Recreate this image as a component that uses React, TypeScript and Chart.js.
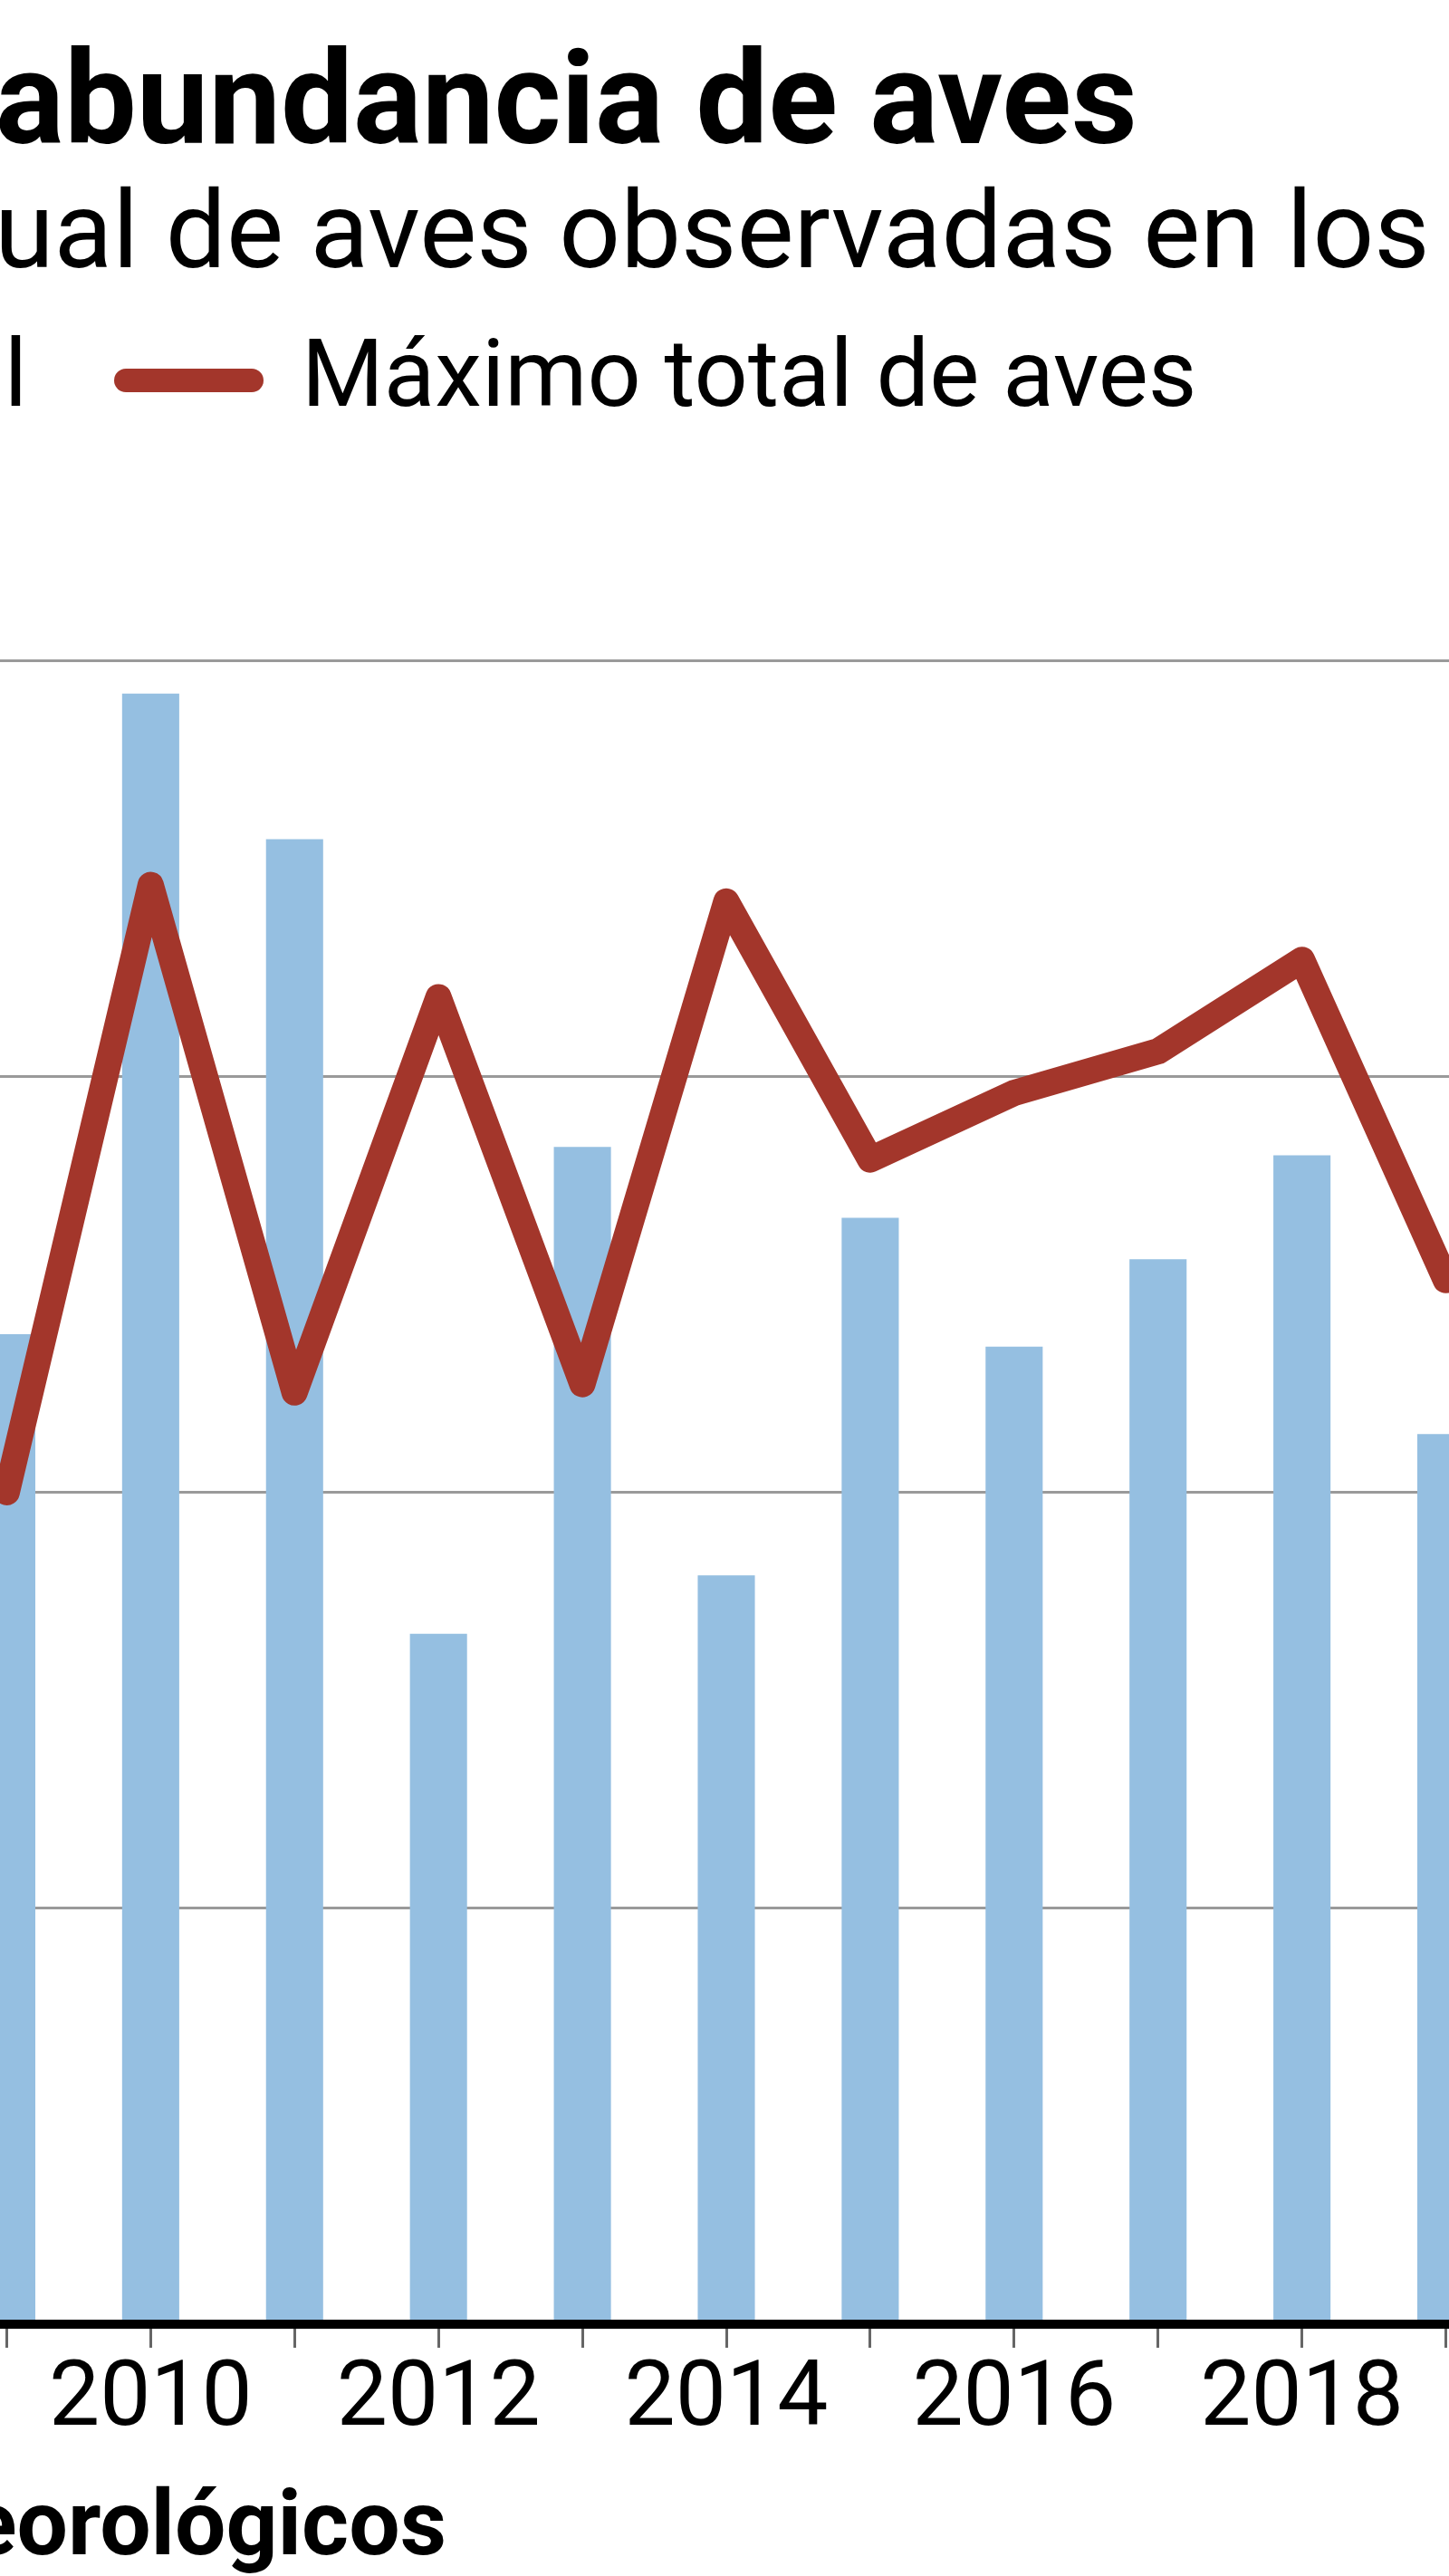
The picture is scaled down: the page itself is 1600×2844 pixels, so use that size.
import React, { useEffect, useRef } from 'react';
import { Chart, registerables } from 'chart.js';

Chart.register(...registerables);

// ---- Data ----
const years = ['2009', '2010', '2011', '2012', '2013', '2014', '2015', '2016', '2017', '2018', '2019'];
const promedioAnual = [238, 392, 357, 166, 283, 180, 266, 235, 256, 281, 214];
const maximoTotal = [200, 346, 224, 319, 226, 342, 280, 296, 306, 328, 251];
const yMin = 0;
const yMax = 400;
const yStep = 100;

// ---- Texts ----
const titleHidden = 'Evolución de la ';
const titleVisible = 'abundancia de aves';
const subtitleHidden = 'Promedio an';
const subtitleVisible = 'ual de aves observadas en los humedales';
const legendBars = 'Promedio anual';
const legendLine = 'Máximo total de aves';
const sourceText = 'Fuente: Servicios Meteorológicos';

const BLUE = '#95bfe1';
const RED = '#a3362b';
const FONT = 'Roboto, "Noto Sans", sans-serif';

export default function App() {
  const canvasRef = useRef<HTMLCanvasElement | null>(null);

  useEffect(() => {
    const canvas = canvasRef.current;
    if (!canvas) return;
    const chart = new Chart(canvas, {
      type: 'bar',
      data: {
        labels: years,
        datasets: [
          {
            type: 'line',
            label: legendLine,
            data: maximoTotal,
            borderColor: RED,
            backgroundColor: RED,
            borderWidth: 29,
            pointRadius: 0,
            pointHoverRadius: 0,
            tension: 0,
            fill: false,
            borderJoinStyle: 'round',
            borderCapStyle: 'round',
            order: 0,
          } as any,
          {
            type: 'bar',
            label: legendBars,
            data: promedioAnual,
            backgroundColor: BLUE,
            borderWidth: 0,
            barPercentage: 0.397,
            categoryPercentage: 1,
            order: 1,
          } as any,
        ],
      },
      options: {
        responsive: false,
        animation: false,
        devicePixelRatio: 1,
        layout: { padding: { top: 729, left: 0, right: 0, bottom: 0 } },
        plugins: {
          legend: { display: false },
          title: { display: false },
          tooltip: { enabled: false },
        },
        scales: {
          x: {
            type: 'category',
            offset: true,
            grid: {
              display: true,
              drawOnChartArea: false,
              offset: false,
              drawTicks: true,
              tickLength: 26,
              tickColor: '#666666',
              tickWidth: 3,
            },
            border: { display: true, color: '#000000', width: 10, z: 1 } as any,
            ticks: {
              autoSkip: false,
              maxRotation: 0,
              minRotation: 0,
              padding: 0,
              color: '#000000',
              font: { family: FONT, size: 100 },
              callback: (_v: any, i: number) => (Number(years[i]) % 2 === 0 ? years[i] : ''),
            },
            afterFit: (s: any) => {
              s.height = 278;
            },
          },
          y: {
            min: yMin,
            max: yMax,
            ticks: {
              stepSize: yStep,
              padding: 20,
              color: '#000000',
              font: { family: FONT, size: 100 },
            },
            grid: { color: '#9a9a9a', lineWidth: 3, drawTicks: false },
            border: { display: false },
            afterFit: (s: any) => {
              s.width = 200;
            },
          },
        },
      },
    });
    return () => chart.destroy();
  }, []);

  const abs: React.CSSProperties = { position: 'absolute', margin: 0, lineHeight: 1, whiteSpace: 'pre' };

  return (
    <div
      style={{
        position: 'absolute',
        left: 0,
        top: 0,
        width: 1600,
        height: 2844,
        overflow: 'hidden',
        background: '#ffffff',
        fontFamily: FONT,
        color: '#000000',
      }}
    >
      <canvas ref={canvasRef} width={1948} height={2844} style={{ position: 'absolute', left: -272, top: 0 }} />

      <h1 style={{ ...abs, left: -5, top: 38.5, fontSize: 142, fontWeight: 700 }}>
        <span style={{ position: 'absolute', right: '100%', top: 0 }}>{titleHidden}</span>
        {titleVisible}
      </h1>

      <h2 style={{ ...abs, left: -6, top: 194.8, fontSize: 119, fontWeight: 400 }}>
        <span style={{ position: 'absolute', right: '100%', top: 0 }}>{subtitleHidden}</span>
        {subtitleVisible}
      </h2>

      <div style={{ ...abs, right: 1570, top: 360.5, fontSize: 104, display: 'flex', alignItems: 'center' }}>
        <span style={{ display: 'inline-block', width: 80, height: 80, background: BLUE, marginRight: 30 }} />
        <span>{legendBars}</span>
      </div>

      <div style={{ position: 'absolute', left: 126, top: 407, width: 165, height: 26, borderRadius: 13, background: RED }} />
      <div style={{ ...abs, left: 333, top: 360.5, fontSize: 104 }}>{legendLine}</div>

      <div style={{ ...abs, right: 1107, top: 2735.8, fontSize: 100, fontWeight: 700 }}>{sourceText}</div>
    </div>
  );
}
